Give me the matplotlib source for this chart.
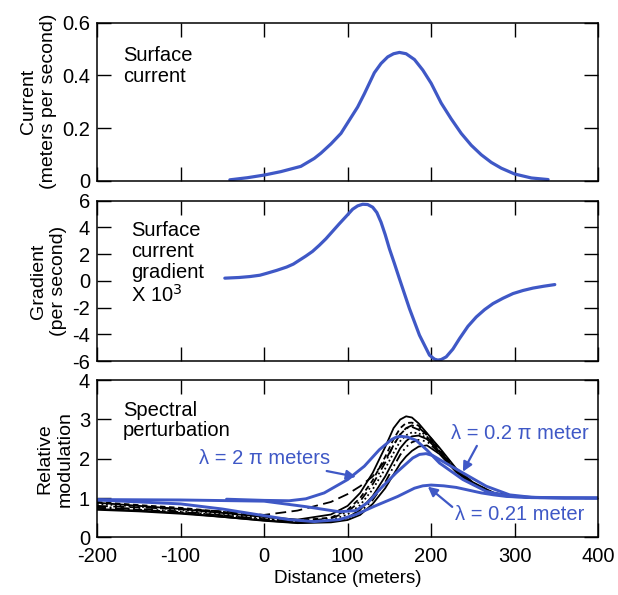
import matplotlib
matplotlib.use('Agg')
import matplotlib.pyplot as plt

plt.rcParams['font.family'] = ['Liberation Sans', 'DejaVu Sans']
plt.rcParams['axes.unicode_minus'] = False

BLUE = '#3f58c6'

# ---------------------------------------------------------------- data
# top panel: surface current (m/s)
cur_x = [-41, -20, 0, 20, 44, 60, 68, 80, 92, 100, 112, 120, 132, 140, 148, 155, 162,
         170, 180, 190, 200, 212, 224, 236, 248, 260, 272, 284, 300, 320, 340]
cur_y = [0.004, 0.012, 0.022, 0.035, 0.055, 0.085, 0.105, 0.14, 0.18, 0.22, 0.28, 0.33,
         0.41, 0.445, 0.47, 0.482, 0.487, 0.482, 0.46, 0.42, 0.37, 0.295, 0.235, 0.18,
         0.135, 0.099, 0.07, 0.048, 0.026, 0.011, 0.005]

# middle panel: surface current gradient x 10^3 (1/s)
grad_x = [-47, -30, -17, -5, 3, 15, 27, 35, 42, 50, 58, 66, 74, 82, 90, 98, 106, 112,
          118, 124, 130, 135, 140, 145, 150, 156, 162, 174, 186, 198, 204, 208, 212,
          218, 226, 234, 244, 254, 264, 274, 286, 298, 310, 322, 335, 348]
grad_y = [0.2, 0.25, 0.32, 0.42, 0.56, 0.78, 1.03, 1.25, 1.53, 1.85, 2.2, 2.65, 3.14,
          3.7, 4.26, 4.8, 5.35, 5.6, 5.72, 5.7, 5.5, 5.1, 4.38, 3.45, 2.4, 1.3, 0.16,
          -2.07, -4.06, -5.55, -5.85, -5.92, -5.88, -5.68, -5.1, -4.31, -3.4, -2.7,
          -2.15, -1.7, -1.3, -0.95, -0.72, -0.54, -0.4, -0.28]

# bottom panel: relative modulation, black family of wavelengths
mod_x = [-200, -150, -100, -50, 0, 40, 80, 100, 115, 130, 145, 155, 163, 170, 177, 185,
         195, 210, 230, 250, 275, 300, 340, 400]
black_1 = [0.88, 0.80, 0.72, 0.62, 0.52, 0.45, 0.58, 0.80, 1.13, 1.64, 2.30, 2.78, 3.00,
           3.08, 3.05, 2.90, 2.65, 2.28, 1.75, 1.40, 1.13, 1.03, 1.00, 1.00]
black_2 = [0.80, 0.76, 0.72, 0.66, 0.57, 0.68, 0.90, 1.10, 1.30, 1.55, 1.95, 2.35, 2.62,
           2.78, 2.85, 2.80, 2.60, 2.20, 1.70, 1.36, 1.12, 1.03, 1.00, 1.00]
black_3 = [0.75, 0.70, 0.64, 0.56, 0.46, 0.40, 0.48, 0.65, 0.92, 1.35, 1.90, 2.35, 2.62,
           2.77, 2.81, 2.74, 2.56, 2.20, 1.70, 1.36, 1.12, 1.03, 1.00, 1.00]
black_4 = [0.85, 0.78, 0.70, 0.60, 0.48, 0.40, 0.44, 0.58, 0.82, 1.22, 1.75, 2.15, 2.45,
           2.60, 2.67, 2.65, 2.52, 2.18, 1.68, 1.35, 1.12, 1.03, 1.00, 1.00]
black_5 = [0.70, 0.66, 0.60, 0.52, 0.43, 0.37, 0.40, 0.50, 0.70, 1.05, 1.55, 1.95, 2.27,
           2.45, 2.57, 2.59, 2.50, 2.18, 1.68, 1.35, 1.12, 1.03, 1.00, 1.00]
black_6 = [0.78, 0.72, 0.66, 0.56, 0.45, 0.38, 0.40, 0.48, 0.64, 0.95, 1.40, 1.80, 2.10,
           2.30, 2.42, 2.48, 2.44, 2.15, 1.67, 1.35, 1.12, 1.03, 1.00, 1.00]
black_7 = [0.72, 0.68, 0.62, 0.52, 0.42, 0.36, 0.38, 0.44, 0.57, 0.85, 1.25, 1.60, 1.88,
           2.06, 2.20, 2.31, 2.34, 2.12, 1.66, 1.34, 1.12, 1.03, 1.00, 1.00]
black_8 = [0.90, 0.82, 0.75, 0.65, 0.52, 0.43, 0.50, 0.70, 1.00, 1.45, 2.05, 2.50, 2.78,
           2.91, 2.92, 2.84, 2.64, 2.26, 1.72, 1.38, 1.13, 1.03, 1.00, 1.00]
black_styles = ['-', (0, (6, 3)), (0, (5, 2, 1, 2)), (0, (1, 1.5)), '-',
                (0, (5, 2, 1, 2, 1, 2)), '-', (0, (3, 2))]

# blue highlighted wavelengths
l2pi_x = [-45, 0, 30, 50, 72, 100, 120, 138, 152, 158, 164, 172, 182, 195, 210, 238,
          266, 294, 330, 400]
l2pi_y = [0.97, 0.94, 0.93, 0.98, 1.13, 1.47, 1.81, 2.23, 2.48, 2.55, 2.57, 2.55, 2.47,
          2.22, 1.89, 1.47, 1.17, 1.04, 1.01, 1.00]
l02pi_x = [-200, -100, 0, 50, 90, 110, 125, 138, 158, 178, 186, 194, 202, 210, 224, 238,
           266, 294, 320, 360, 400]
l02pi_y = [0.96, 0.95, 0.92, 0.78, 0.65, 0.68, 0.90, 1.21, 1.64, 2.02, 2.11, 2.13, 2.08,
           1.98, 1.81, 1.64, 1.30, 1.08, 1.02, 1.00, 1.00]
l021_x = [-200, -150, -100, -50, 0, 30, 60, 90, 110, 132, 160, 180, 190, 200, 215, 230,
          245, 260, 275, 290, 320, 360, 400]
l021_y = [0.95, 0.90, 0.85, 0.72, 0.55, 0.45, 0.40, 0.45, 0.58, 0.79, 1.04, 1.25, 1.31,
          1.33, 1.31, 1.27, 1.20, 1.13, 1.08, 1.04, 1.01, 1.00, 1.00]

xticks = [-200, -100, 0, 100, 200, 300, 400]

# ---------------------------------------------------------------- figure
fig = plt.figure(figsize=(6.18, 5.95), dpi=100)
ax1 = fig.add_axes([0.157, 0.696, 0.811, 0.266])
ax2 = fig.add_axes([0.157, 0.393, 0.811, 0.270])
ax3 = fig.add_axes([0.157, 0.097, 0.811, 0.264])

for ax in (ax1, ax2, ax3):
    ax.set_xlim(-200, 400)
    ax.set_xticks(xticks)
    ax.tick_params(direction='in', length=10, width=1.0, top=True, right=True,
                   labelsize=14.5, pad=5)
    ax.tick_params(axis='x', pad=7)
    for s in ax.spines.values():
        s.set_linewidth(1.1)

ax1.tick_params(labelbottom=False)
ax2.tick_params(labelbottom=False)

# top
ax1.plot(cur_x, cur_y, color=BLUE, lw=2.3, solid_capstyle='round', solid_joinstyle='round')
ax1.set_ylim(0, 0.6)
ax1.set_yticks([0, 0.2, 0.4, 0.6])
ax1.set_yticklabels(['0', '0.2', '0.4', '0.6'])
ax1.set_ylabel('Current\n(meters per second)', fontsize=14, labelpad=4)
ax1.text(0.052, 0.85, 'Surface\ncurrent', transform=ax1.transAxes, fontsize=14.5,
         va='top', ha='left', linespacing=1.1)

# middle
ax2.plot(grad_x, grad_y, color=BLUE, lw=2.3, solid_capstyle='round', solid_joinstyle='round')
ax2.set_ylim(-6, 6)
ax2.set_yticks([-6, -4, -2, 0, 2, 4, 6])
ax2.set_ylabel('Gradient\n(per second)', fontsize=14, labelpad=4)
ax2.text(0.068, 0.87, 'Surface\ncurrent\ngradient\nX 10$^3$', transform=ax2.transAxes,
         fontsize=14.5, va='top', ha='left', linespacing=1.12)

# bottom
blacks = [black_1, black_2, black_3, black_4, black_5, black_6, black_7, black_8]
for yv, ls in zip(blacks, black_styles):
    ax3.plot(mod_x, yv, color='black', lw=1.3, linestyle=ls)
for bx, by in ((l2pi_x, l2pi_y), (l02pi_x, l02pi_y), (l021_x, l021_y)):
    ax3.plot(bx, by, color=BLUE, lw=2.1, solid_capstyle='round', solid_joinstyle='round')
ax3.set_ylim(0, 4)
ax3.set_yticks([0, 1, 2, 3, 4])
ax3.set_ylabel('Relative\nmodulation', fontsize=14, labelpad=4)
ax3.set_xlabel('Distance (meters)', fontsize=13.5, labelpad=3)
ax3.text(0.052, 0.87, 'Spectral\nperturbation', transform=ax3.transAxes, fontsize=14.5,
         va='top', ha='left', linespacing=1.1)

arrow = dict(arrowstyle='-|>', color=BLUE, lw=1.6, mutation_scale=14, shrinkA=0, shrinkB=0)
ax3.annotate('λ = 2 π meters', xy=(110, 1.54), xytext=(79, 2.0), color=BLUE, fontsize=14.5,
             ha='right', va='center', arrowprops=arrow)
ax3.annotate('λ = 0.2 π meter', xy=(238, 1.67), xytext=(306, 2.64), color=BLUE,
             fontsize=14.5, ha='center', va='center',
             arrowprops=dict(arrow, relpos=(0.2, 0.0)))
ax3.annotate('λ = 0.21 meter', xy=(196, 1.29), xytext=(306, 0.57), color=BLUE,
             fontsize=14.5, ha='center', va='center',
             arrowprops=dict(arrow, relpos=(0.0, 0.8)))

fig.savefig('out.png', dpi=100)
